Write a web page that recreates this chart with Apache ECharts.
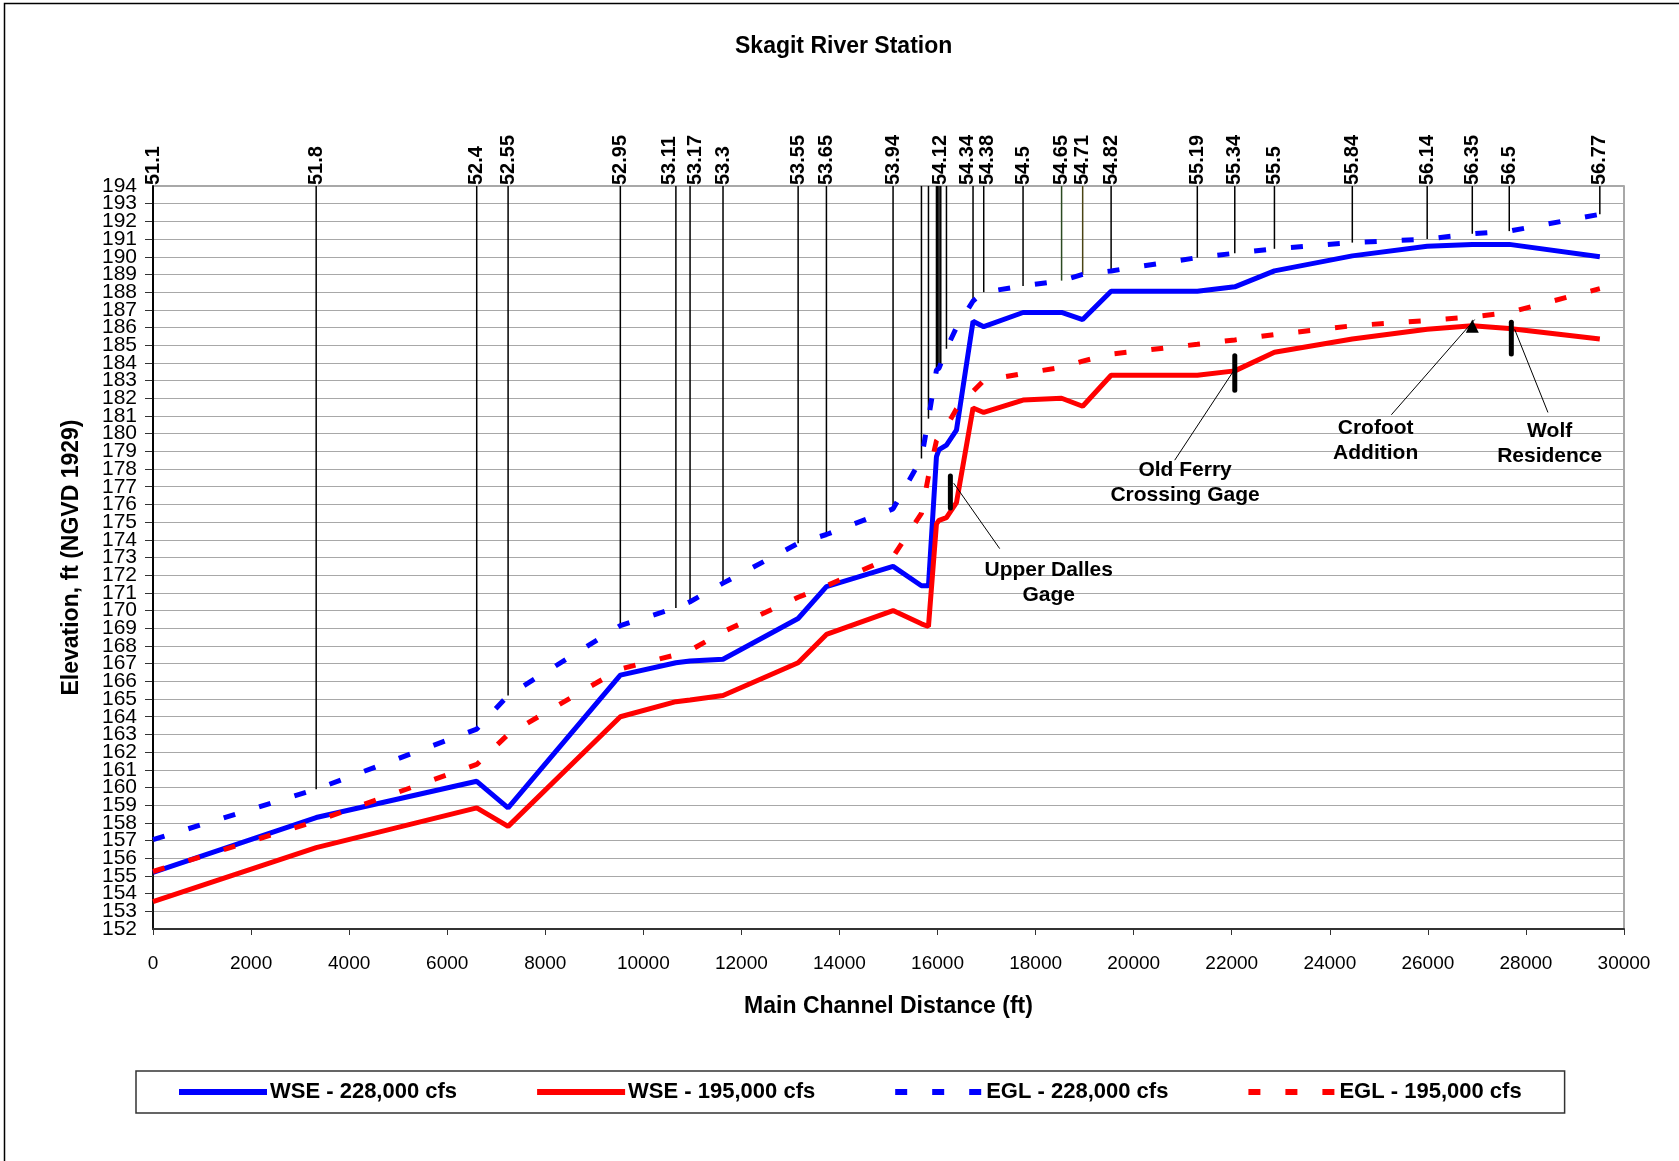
<!DOCTYPE html>
<html>
<head>
<meta charset="utf-8">
<title>Skagit River Station</title>
<script src="https://cdn.jsdelivr.net/npm/echarts@6/dist/echarts.min.js"></script>
<style>
html, body { margin: 0; padding: 0; background: #fff; }
#main { width: 1679px; height: 1161px; }
</style>
</head>
<body>
<div id="main"></div>
<script>
// cross sections along the main channel (ft)
const dist = [0, 3328, 6602, 7242, 9531, 10664, 10953, 11625, 13157, 13734, 15093,
  15672, 15815, 15978, 16004, 16031, 16066, 16182, 16386, 16724, 16942, 17744,
  18530, 18960, 19540, 21298, 22062, 22871, 24459, 25986, 26906, 27660, 29507];
// river mile of each section ('' = line without label, null = no line)
const station = ['51.1', '51.8', '52.4', '52.55', '52.95', '53.11', '53.17', '53.3', '53.55', '53.65', '53.94',
  '', '', '', '', '', '54.12', '', null, '54.34', '54.38', '54.5',
  '54.65', '54.71', '54.82', '55.19', '55.34', '55.5', '55.84', '56.14', '56.35', '56.5', '56.77'];

const wse228 = [155.2, 158.3, 160.35, 158.85, 166.35, 167.05, 167.15, 167.25, 169.55, 171.35, 172.5,
  171.4, 171.4, 178.7, 178.9, 179.1, 179.2, 179.35, 180.2, 186.35, 186.05, 186.85,
  186.85, 186.45, 188.05, 188.05, 188.3, 189.2, 190.05, 190.6, 190.7, 190.7, 190.0];
const wse195 = [153.55, 156.6, 158.85, 157.8, 164.0, 164.85, 164.95, 165.2, 167.05, 168.65, 170.0,
  169.25, 169.1, 174.9, 175.0, 175.1, 175.2, 175.25, 176.1, 181.45, 181.2, 181.9,
  182.0, 181.55, 183.3, 183.3, 183.55, 184.6, 185.35, 185.9, 186.1, 185.95, 185.35];
const egl228 = [157.05, 159.9, 163.3, 165.2, 169.15, 170.15, 170.5, 171.55, 173.8, 174.3, 175.75,
  178.6, 180.85, 183.6, 183.65, 183.7, 183.8, 184.8, 186.0, 187.5, 188.0, 188.35,
  188.65, 189.0, 189.2, 189.95, 190.2, 190.45, 190.8, 191.0, 191.3, 191.45, 192.4];
const egl195 = [155.25, 158.1, 161.3, 163.0, 166.7, 167.5, 167.75, 168.8, 170.75, 171.4, 173.05,
  175.5, 177.6, 179.6, 179.7, 179.8, 180.0, 180.4, 181.4, 182.4, 183.0, 183.4,
  183.75, 184.1, 184.5, 185.05, 185.3, 185.6, 186.1, 186.4, 186.6, 186.85, 188.2];

// gages / sites marked on the profile
const noteText = ['Upper Dalles\nGage', 'Old Ferry\nCrossing Gage', 'Crofoot\nAddition', 'Wolf\nResidence'];
const noteDist = [16262, 22062, 26906, 27702];
const noteLow = [175.8, 182.45, 185.7, 184.5];
const noteHigh = [177.6, 184.4, 186.45, 186.3];

// annotation layout (leader line from/to, text centre)
const noteLayout = [
  { mark: 'bar', from: [16330, 177.2], to: [17268, 173.5], label: [18268, 171.55] },
  { mark: 'bar', from: [22026, 183.5], to: [20837, 178.5], label: [21049, 177.2] },
  { mark: 'triangle', from: [26954, 186.45], to: [25256, 181.07], label: [24935, 179.6] },
  { mark: 'bar', from: [27770, 185.9], to: [28449, 181.2], label: [28484, 179.42] }
];

const FONT = '"Liberation Sans", Arial, Helvetica, sans-serif';
const lineColors = { '54.65': '#2b4a22', '54.71': '#4a4414' };
// nudge crowded station labels sideways (px)
const labelShift = { '53.11': -6, '53.17': 5, '54.34': -6, '54.38': 4 };
const Y_MIN = 152, Y_TOP = 194;

function pairs(ys) {
  return dist.map(function (d, i) { return [d, ys[i]]; });
}

var myChart = echarts.init(document.getElementById('main'));

function renderDrop(params, api) {
  var name = station[params.dataIndex];
  if (name === null) return { type: 'group', children: [] };
  var top = api.coord([api.value(0), Y_TOP]);
  var end = api.coord([api.value(0), api.value(1)]);
  var children = [{
    type: 'line',
    shape: { x1: top[0], y1: top[1], x2: end[0], y2: end[1] },
    style: { stroke: lineColors[name] || '#000', lineWidth: 1.5 }
  }];
  if (name) {
    children.push({
      type: 'text',
      x: top[0] + (labelShift[name] || 0), y: top[1] - 1,
      rotation: Math.PI / 2,
      style: { text: name, align: 'left', verticalAlign: 'middle', fill: '#000',
        font: 'bold 20px ' + FONT }
    });
  }
  return { type: 'group', children: children };
}

function renderNote(params, api) {
  var i = params.dataIndex;
  var lay = noteLayout[i];
  var lo = api.coord([api.value(0), api.value(1)]);
  var hi = api.coord([api.value(0), api.value(2)]);
  var a = api.coord(lay.from), b = api.coord(lay.to), c = api.coord(lay.label);
  var children = [{
    type: 'line',
    shape: { x1: a[0], y1: a[1], x2: b[0], y2: b[1] },
    style: { stroke: '#000', lineWidth: 1 }
  }];
  if (lay.mark === 'bar') {
    children.push({
      type: 'line',
      shape: { x1: lo[0], y1: lo[1], x2: hi[0], y2: hi[1] },
      style: { stroke: '#000', lineWidth: 5, lineCap: 'round' }
    });
  } else {
    children.push({
      type: 'polygon',
      shape: { points: [[hi[0], hi[1]], [lo[0] - 6.5, lo[1]], [lo[0] + 6.5, lo[1]]] },
      style: { fill: '#000' }
    });
  }
  children.push({
    type: 'text',
    x: c[0], y: c[1],
    style: { text: noteText[i], align: 'center', verticalAlign: 'middle', fill: '#000',
      font: 'bold 21px ' + FONT, lineHeight: 25 }
  });
  return { type: 'group', children: children };
}

var yLabel = { fontFamily: FONT, fontSize: 21, color: '#000', margin: 16 };

var option = {
  backgroundColor: '#fff',
  animation: false,
  title: {
    text: 'Skagit River Station',
    left: 735,
    top: 35,
    padding: 0,
    textStyle: { fontFamily: FONT, fontSize: 23, fontWeight: 'bold', color: '#000' }
  },
  grid: {
    left: 153, right: 55, top: 186, bottom: 232,
    show: true, borderColor: '#8c8c8c', borderWidth: 1.5, backgroundColor: 'transparent'
  },
  legend: {
    data: ['WSE - 228,000 cfs', 'WSE - 195,000 cfs', 'EGL - 228,000 cfs', 'EGL - 195,000 cfs'],
    left: 136, top: 1071,
    padding: [10, 43, 10, 40],
    itemWidth: 88, itemHeight: 14, itemGap: 77,
    borderColor: '#333', borderWidth: 1.5,
    itemStyle: { color: 'rgba(0,0,0,0)', borderColor: 'rgba(0,0,0,0)', borderWidth: 0 },
    lineStyle: { width: 6 },
    textStyle: { fontFamily: FONT, fontSize: 22, fontWeight: 'bold', color: '#000', padding: [0, 0, 0, -2] }
  },
  xAxis: {
    type: 'value', min: 0, max: 30000, interval: 2000,
    name: 'Main Channel Distance (ft)', nameLocation: 'middle', nameGap: 66,
    nameTextStyle: { fontFamily: FONT, fontSize: 23, fontWeight: 'bold', color: '#000' },
    axisLine: { onZero: false, lineStyle: { color: '#333', width: 2 } },
    axisTick: { show: true, length: 6, lineStyle: { color: '#333' } },
    axisLabel: { fontFamily: FONT, fontSize: 19, color: '#000', margin: 25,
      formatter: function (v) { return String(v); } },
    splitLine: { show: false }
  },
  yAxis: [
    {
      type: 'value', min: Y_MIN, max: Y_TOP, interval: 1,
      name: 'Elevation, ft (NGVD 1929)', nameLocation: 'middle', nameGap: 70,
      nameTextStyle: { fontFamily: FONT, fontSize: 23, fontWeight: 'bold', color: '#000' },
      axisLine: { show: true, lineStyle: { color: '#111', width: 2 } },
      axisTick: { show: true, length: 8, lineStyle: { color: '#333' } },
      axisLabel: Object.assign({ showMinLabel: false, showMaxLabel: false }, yLabel),
      splitLine: { show: true, lineStyle: { color: '#a8a8a8', width: 1.2 } }
    },
    {
      // end labels (152 / 194) that the crowded main axis drops
      type: 'value', position: 'left', min: Y_MIN, max: Y_TOP, interval: 1,
      axisLine: { show: false }, axisTick: { show: false }, splitLine: { show: false },
      axisLabel: Object.assign({ showMinLabel: true, showMaxLabel: true,
        formatter: function (v) { return (v === Y_MIN || v === Y_TOP) ? String(v) : ''; } }, yLabel)
    }
  ],
  series: [
    {
      type: 'custom', name: 'stations', silent: true, z: 1,
      renderItem: renderDrop,
      encode: { x: 0, y: 1 },
      data: pairs(egl228)
    },
    {
      name: 'WSE - 228,000 cfs', type: 'line', data: pairs(wse228), symbol: 'none', z: 2,
      lineStyle: { color: '#0000ff', width: 5 }, itemStyle: { color: '#0000ff' }
    },
    {
      name: 'WSE - 195,000 cfs', type: 'line', data: pairs(wse195), symbol: 'none', z: 2,
      lineStyle: { color: '#ff0000', width: 5 }, itemStyle: { color: '#ff0000' }
    },
    {
      name: 'EGL - 228,000 cfs', type: 'line', data: pairs(egl228), symbol: 'none', z: 2,
      lineStyle: { color: '#0000ff', width: 5, type: [12, 25], cap: 'butt' }, itemStyle: { color: '#0000ff' }
    },
    {
      name: 'EGL - 195,000 cfs', type: 'line', data: pairs(egl195), symbol: 'none', z: 2,
      lineStyle: { color: '#ff0000', width: 5, type: [12, 25], cap: 'butt' }, itemStyle: { color: '#ff0000' }
    },
    {
      type: 'custom', name: 'notes', silent: true, z: 5,
      renderItem: renderNote,
      encode: { x: 0, y: [1, 2] },
      data: noteDist.map(function (d, i) { return [d, noteLow[i], noteHigh[i]]; })
    }
  ],
  graphic: [{
    type: 'rect', silent: true,
    shape: { x: 4.5, y: 3.5, width: 1700, height: 1200 },
    style: { fill: 'none', stroke: '#000', lineWidth: 1.5 }
  }]
};

window.onresize = myChart.resize;
myChart.setOption(option);
</script>
</body>
</html>
